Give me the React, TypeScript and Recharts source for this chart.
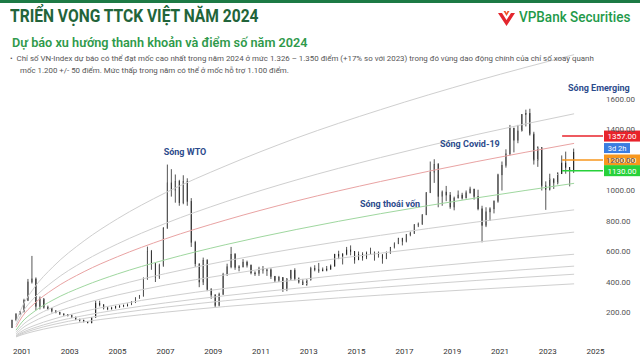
import { ComposedChart, Bar, Line, XAxis, YAxis, ReferenceLine, ReferenceDot } from 'recharts'

// bi-monthly candles, first one is Jul-Aug 2000
const FIRST_PERIOD = 2000.5
const PERIOD = 1 / 6
const FIRST_OPEN = 100

const closes = [
  150, 190, 207,
  280, 400, 420, 240, 290, 235,
  225, 210, 200, 190, 185, 183,
  170, 155, 150, 140, 132, 166,
  260, 250, 230, 225, 230, 240,
  240, 245, 250, 265, 295, 307,
  420, 600, 520, 430, 510, 751,
  1050, 1000, 1060, 920, 1060, 927,
  660, 520, 400, 540, 350, 315,
  245, 320, 450, 500, 580, 495,
  500, 530, 510, 460, 455, 485,
  480, 480, 435, 410, 430, 352,
  420, 475, 420, 400, 385, 414,
  490, 480, 480, 475, 485, 505,
  580, 570, 580, 610, 600, 545,
  580, 560, 590, 590, 580, 580,
  555, 590, 625, 650, 685, 665,
  710, 720, 775, 780, 840, 985,
  1120, 1170, 960, 990, 970, 892,
  950, 970, 950, 985, 1010, 960,
  880, 770, 860, 880, 930, 1103,
  1165, 1240, 1410, 1330, 1390, 1498,
  1505, 1370, 1200, 1280, 1030, 1007,
  1075, 1050, 1110, 1180, 1150, 1130,
  1250,
]

const highs = [
  152, 195, 210,
  290, 420, 571, 430, 305, 290,
  245, 228, 215, 205, 195, 190,
  185, 172, 160, 152, 142, 168,
  277, 277, 255, 235, 238, 245,
  250, 252, 260, 275, 300, 315,
  430, 632, 610, 525, 520, 760,
  1170, 1140, 1105, 1070, 1100, 1080,
  950, 670, 520, 560, 550, 360,
  320, 330, 460, 520, 630, 590,
  510, 550, 540, 515, 470, 500,
  505, 490, 490, 440, 440, 430,
  425, 480, 490, 430, 420, 415,
  500, 510, 525, 495, 505, 515,
  585, 605, 590, 630, 640, 600,
  600, 595, 600, 625, 600, 600,
  580, 600, 630, 660, 690, 690,
  715, 730, 780, 790, 845, 990,
  1190, 1205, 1180, 1000, 1030, 990,
  960, 1000, 985, 1000, 1025, 1010,
  1005, 900, 890, 890, 935, 1110,
  1190, 1270, 1430, 1410, 1430, 1500,
  1530, 1536, 1385, 1290, 1285, 1060,
  1110, 1080, 1120, 1230, 1255, 1140,
  1275,
]

const lows = [
  100, 148, 185,
  200, 275, 390, 215, 220, 225,
  215, 200, 195, 185, 180, 175,
  165, 150, 140, 135, 130, 130,
  166, 240, 220, 215, 220, 225,
  232, 235, 240, 250, 262, 290,
  305, 415, 480, 400, 420, 500,
  750, 960, 920, 900, 910, 900,
  630, 500, 366, 380, 340, 290,
  235, 240, 315, 440, 490, 480,
  470, 495, 495, 450, 440, 440,
  455, 440, 420, 400, 400, 335,
  340, 415, 410, 390, 380, 375,
  410, 470, 460, 470, 470, 480,
  500, 550, 515, 575, 575, 520,
  545, 540, 550, 580, 540, 560,
  520, 550, 585, 620, 650, 640,
  660, 700, 715, 760, 775, 840,
  985, 1050, 890, 900, 930, 880,
  870, 950, 940, 950, 980, 940,
  870, 660, 760, 800, 850, 920,
  1000, 1150, 1230, 1250, 1310, 1390,
  1420, 1360, 1170, 1155, 1000, 873,
  1000, 1010, 1040, 1110, 1110, 1027,
  1115,
]

// fan arcs at these dates
const fanYears = [2000.75, 2001.0, 2001.5, 2002.3, 2003.6, 2005, 2007, 2009.5, 2012.5, 2016, 2020, 2024.1]
const fan1 = [140, 235, 360, 500, 670, 815, 985, 1160, 1345, 1530, 1718, 1891]
const fan2 = [120, 196, 294, 404, 537, 650, 784, 925, 1070, 1216, 1366, 1503]
const fan3 = [104, 171, 256, 352, 468, 566, 683, 805, 932, 1059, 1189, 1309]
const fan4 = [84, 137, 205, 282, 374, 453, 546, 644, 745, 848, 951, 1047]
const fan5 = [70, 114, 171, 235, 312, 378, 455, 537, 621, 706, 793, 873]
const fan6 = [58, 95, 142, 196, 260, 315, 380, 447, 518, 589, 661, 727]
const fan7 = [50, 78, 114, 156, 208, 252, 304, 358, 414, 471, 529, 582]
const fan8 = [46, 68, 99, 136, 180, 218, 263, 310, 359, 408, 458, 504]
const fan9 = [43, 61, 88, 121, 161, 195, 235, 277, 321, 365, 410, 451]
const fan10 = [40, 54, 76, 104, 139, 168, 202, 239, 276, 314, 352, 388]
const fans = [fan1, fan2, fan3, fan4, fan5, fan6, fan7, fan8, fan9, fan10]
const fanColors = ['#cfcfcf', '#cfcfcf', '#e9a3a3', '#9fd79f', '#cfcfcf', '#cfcfcf', '#cfcfcf', '#cfcfcf', '#cfcfcf', '#cfcfcf']

const yearTicks = [2001, 2003, 2005, 2007, 2009, 2011, 2013, 2015, 2017, 2019, 2021, 2023, 2025]
const priceTicks = [200, 400, 600, 800, 1000, 1200, 1400, 1600]

const levels = [
  { value: 1357, color: '#e8232b', text: '1357.00' },
  { value: 1200, color: '#f7971e', text: '1200.00' },
  { value: 1130, color: '#27d13a', text: '1130.00' },
]

const waves = [
  { t: 2007.82, v: 1252, text: 'Sóng WTO' },
  { t: 2016.4, v: 911, text: 'Sóng thoái vốn' },
  { t: 2019.74, v: 1305, text: 'Sóng Covid-19' },
  { t: 2025.14, v: 1672, text: 'Sóng Emerging' },
]

const candles = closes.map((close, i) => ({
  t: FIRST_PERIOD + i * PERIOD + PERIOD / 2,
  open: i === 0 ? FIRST_OPEN : closes[i - 1],
  close,
  high: highs[i],
  low: lows[i],
}))

function Candle(props: any) {
  const { x, y, width, height, payload } = props
  if (!payload) return null
  const { open, close, high, low } = payload
  const top = Math.min(y, y + height)
  const span = Math.abs(height)
  const k = high > low ? span / (high - low) : 0
  const bodyTop = top + (high - Math.max(open, close)) * k
  const bodyH = Math.max(1, Math.abs(open - close) * k)
  const cx = x + width / 2
  const up = close >= open
  return (
    <g>
      <line x1={cx} x2={cx} y1={top} y2={top + span} stroke="#2a2a2a" strokeWidth={0.8} />
      <rect x={x} y={bodyTop} width={width} height={bodyH} fill={up ? '#fff' : '#2a2a2a'} stroke="#2a2a2a" strokeWidth={0.6} />
    </g>
  )
}

function PriceTag(props: any) {
  const { viewBox, text, color, countdown } = props
  if (!viewBox) return null
  const x = viewBox.x + viewBox.width + 1
  const y = viewBox.y
  return (
    <g>
      <rect x={x} y={y - 5.5} width={36} height={11} fill={color} />
      <text x={x + 18} y={y + 3} textAnchor="middle" fontSize={8} fill="#fff" fontFamily="Roboto">{text}</text>
      {countdown && (
        <>
          <rect x={x} y={y + 7} width={26} height={10} fill="#3b7de0" />
          <text x={x + 13} y={y + 15} textAnchor="middle" fontSize={7.5} fill="#fff" fontFamily="Roboto">{countdown}</text>
        </>
      )}
    </g>
  )
}

function Logo() {
  return (
    <svg width={19} height={18} viewBox="0 0 19 18">
      <path d="M1 4 L9.5 17 L18 4 L14 4 L9.5 11 L5 4 Z" fill="#e3262e" />
      <path d="M6.5 2 L9.5 7 L12.5 2 L10.5 2 L9.5 4 L8.5 2 Z" fill="#f0542a" />
    </svg>
  )
}

export default function App() {
  return (
    <div style={{ position: 'absolute', left: 0, top: 0, width: 640, height: 363, background: '#fff', overflow: 'hidden', fontFamily: 'Roboto, sans-serif' }}>
      <div style={{ position: 'absolute', left: 0, top: 0 }}>
        <ComposedChart width={640} height={363} data={candles} margin={{ top: 38, right: 0, bottom: 0, left: 0 }}>
          <XAxis
            dataKey="t"
            type="number"
            domain={[2000.08, 2025.31]}
            allowDataOverflow
            ticks={yearTicks}
            tickFormatter={(v) => String(v)}
            tick={{ fill: '#333', fontSize: 8 }}
            axisLine={false}
            tickLine={false}
            tickSize={0}
            tickMargin={5}
            height={20}
          />
          <YAxis
            orientation="right"
            domain={[0, 2000]}
            allowDataOverflow
            ticks={priceTicks}
            tickFormatter={(v) => Number(v).toFixed(2)}
            tick={{ fill: '#555', fontSize: 8 }}
            axisLine={false}
            tickLine={false}
            tickSize={0}
            tickMargin={3}
            width={37}
          />
          {fans.map((fan, i) => (
            <Line
              key={'fan' + i}
              data={fanYears.map((t, j) => ({ t, v: fan[j] }))}
              dataKey="v"
              type="monotone"
              stroke={fanColors[i]}
              strokeWidth={1}
              dot={false}
              activeDot={false}
              isAnimationActive={false}
            />
          ))}
          <Bar dataKey={(d: any) => [d.low, d.high]} barSize={2.5} shape={<Candle />} isAnimationActive={false} />
          {levels.map((lv, i) => (
            <ReferenceLine
              key={'lv' + i}
              segment={[{ x: 2023.6, y: lv.value }, { x: 2025.31, y: lv.value }]}
              stroke={lv.color}
              strokeWidth={1.6}
              label={<PriceTag text={lv.text} color={lv.color} countdown={i === 0 ? '3d 2h' : undefined} />}
            />
          ))}
          {waves.map((w, i) => (
            <ReferenceDot
              key={'w' + i}
              x={w.t}
              y={w.v}
              r={0}
              fill="none"
              stroke="none"
              label={{ value: w.text, position: 'center', fill: '#2c4b8c', fontSize: 9, fontWeight: 700 }}
            />
          ))}
        </ComposedChart>
      </div>
      <div style={{ position: 'absolute', left: 0, top: 0, width: 640, height: 3, background: '#1d7a45' }} />
      <div style={{ position: 'absolute', left: 10, top: 4, fontSize: 19, fontWeight: 700, color: '#22643a', whiteSpace: 'nowrap', lineHeight: '24px', transform: 'scaleX(0.82)', transformOrigin: 'left' }}>
        TRIỂN VỌNG TTCK VIỆT NĂM 2024
      </div>
      <div style={{ position: 'absolute', left: 497, top: 9 }}>
        <Logo />
      </div>
      <div style={{ position: 'absolute', left: 519, top: 6, fontSize: 15, fontWeight: 500, color: '#1f9a4a', whiteSpace: 'nowrap', lineHeight: '22px', transform: 'scaleX(0.9)', transformOrigin: 'left' }}>
        VPBank Securities
      </div>
      <div style={{ position: 'absolute', left: 12, top: 34, fontSize: 12.7, fontWeight: 600, color: '#2f9a4b', whiteSpace: 'nowrap', lineHeight: '18px' }}>
        Dự báo xu hướng thanh khoản và điểm số năm 2024
      </div>
      <div style={{ position: 'absolute', left: 10, top: 53, fontSize: 7.9, color: '#555', whiteSpace: 'nowrap', lineHeight: '12px' }}>
        <div>•&nbsp;&nbsp;Chỉ số VN-Index dự báo có thể đạt mốc cao nhất trong năm 2024 ở mức 1.326 – 1.350 điểm (+17% so với 2023) trong đó vùng dao động chính của chỉ số xoay quanh</div>
        <div style={{ paddingLeft: 10 }}>mốc 1.200 +/- 50 điểm. Mức thấp trong năm có thể ở mốc hỗ trợ 1.100 điểm.</div>
      </div>
    </div>
  )
}
